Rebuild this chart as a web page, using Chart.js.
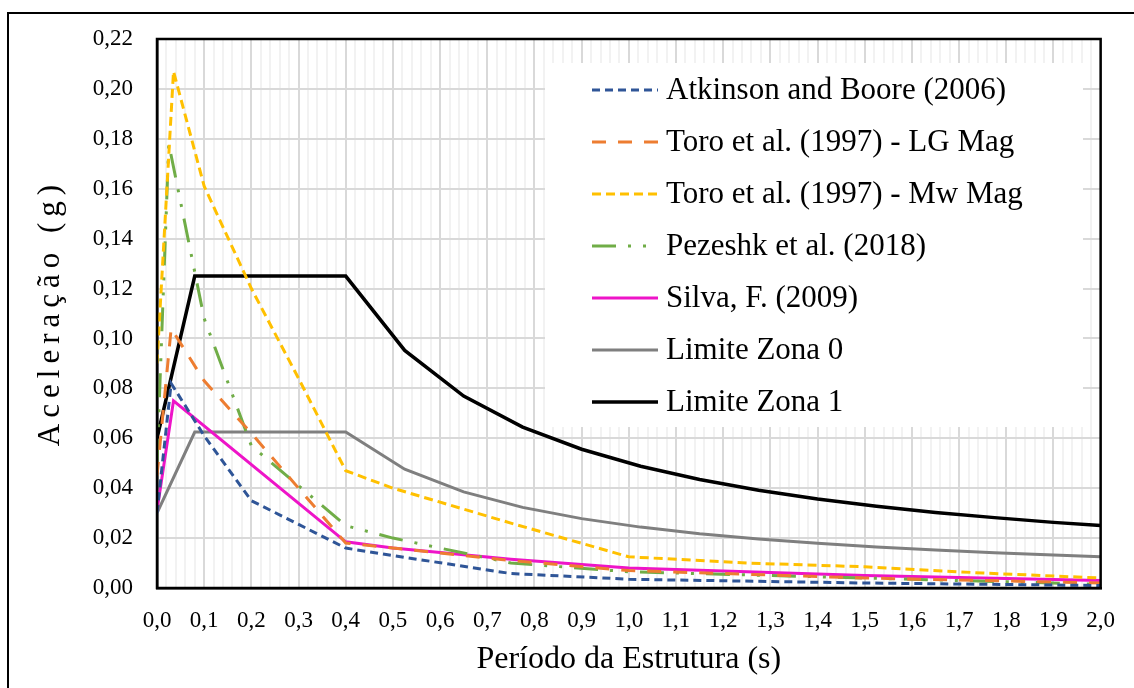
<!DOCTYPE html>
<html>
<head>
<meta charset="utf-8">
<script src="https://cdn.jsdelivr.net/npm/chart.js@4.4.1/dist/chart.umd.min.js"></script>
<style>
  body { margin: 0; background: #fff; }
</style>
</head>
<body>
<canvas id="chart" width="1134" height="688"></canvas>
<script>
// periods (s) and accelerations (g)
let labels = ['Atkinson and Boore (2006)', 'Toro et al. (1997) - LG Mag', 'Toro et al. (1997) - Mw Mag',
              'Pezeshk et al. (2018)', 'Silva, F. (2009)', 'Limite Zona 0', 'Limite Zona 1'];

let tAtk = [0, 0.03, 0.1, 0.2, 0.4, 0.5, 0.75, 1.0, 1.5, 2.0];
let aAtk = [0.030, 0.082, 0.061, 0.035, 0.016, 0.013, 0.0058, 0.0035, 0.002, 0.001];

let tToroLG = [0, 0.03, 0.1, 0.2, 0.3, 0.4, 0.5, 0.75, 1.0, 1.5, 2.0];
let aToroLG = [0.045, 0.104, 0.083, 0.062, 0.040, 0.018, 0.016, 0.011, 0.007, 0.004, 0.002];

let tToroMw = [0, 0.035, 0.1, 0.2, 0.3, 0.4, 0.5, 0.75, 1.0, 1.25, 1.5, 1.75, 2.0];
let aToroMw = [0.09, 0.207, 0.161, 0.120, 0.084, 0.047, 0.040, 0.026, 0.0125, 0.010, 0.0085, 0.006, 0.004];

let tPez = [0, 0.025, 0.1, 0.2, 0.4, 0.5, 0.6, 0.75, 1.0, 1.5, 2.0];
let aPez = [0.05, 0.178, 0.108, 0.057, 0.025, 0.020, 0.016, 0.010, 0.0065, 0.004, 0.0015];

let tSilva = [0, 0.035, 0.4, 0.5, 0.75, 1.0, 1.5, 2.0];
let aSilva = [0.031, 0.075, 0.0185, 0.016, 0.0115, 0.008, 0.005, 0.003];

let tLim = [0, 0.08, 0.4, 0.525, 0.65, 0.775, 0.9, 1.025, 1.15, 1.275, 1.4, 1.525, 1.65, 1.775, 1.9, 2.0];
let aZona0 = [0.030, 0.0625, 0.0625, 0.0476, 0.0385, 0.0323, 0.0278, 0.0244, 0.0217, 0.0196, 0.0179, 0.0164, 0.0152, 0.0141, 0.0132, 0.0125];
let aZona1 = [0.060, 0.125, 0.125, 0.0952, 0.0769, 0.0645, 0.0556, 0.0488, 0.0435, 0.0392, 0.0357, 0.0328, 0.0303, 0.0282, 0.0263, 0.0250];

let yTicks = [0, 0.02, 0.04, 0.06, 0.08, 0.10, 0.12, 0.14, 0.16, 0.18, 0.20, 0.22];
let yTitle = 'Aceleração (g)';

function pts(t, a) {
  return t.map((v, i) => ({ x: v, y: a[i] }));
}

const serif = 'Liberation Serif';

// white legend box inside the plot, Excel style
const legendBox = {
  id: 'legendBox',
  afterDatasetsDraw(chart) {
    const c = chart.ctx;
    const area = chart.chartArea;
    c.save();
    c.fillStyle = '#fff';
    c.fillRect(545, area.top + 24, 538, 364);
    chart.data.datasets.forEach((ds, i) => {
      const y = area.top + 51 + i * 52;
      c.strokeStyle = ds.borderColor;
      c.lineWidth = ds.borderWidth;
      c.setLineDash(ds.borderDash || []);
      c.beginPath();
      c.moveTo(592, y);
      c.lineTo(658, y);
      c.stroke();
      c.setLineDash([]);
      c.fillStyle = '#000';
      c.font = '31px "' + serif + '"';
      c.textBaseline = 'middle';
      c.fillText(ds.label, 666, y + 1);
    });
    c.restore();
  }
};

// plot frame, outer figure border and the spaced-out y title
const frame = {
  id: 'frame',
  afterDraw(chart) {
    const c = chart.ctx;
    const a = chart.chartArea;
    c.save();
    c.strokeStyle = '#000';
    c.lineWidth = 2.5;
    c.strokeRect(a.left, a.top, a.right - a.left, a.bottom - a.top);
    c.lineWidth = 2;
    c.strokeRect(8, 13, 1300, 900);
    c.translate(51, (a.top + a.bottom) / 2 + 2);
    c.rotate(-Math.PI / 2);
    c.font = '31px "' + serif + '"';
    c.letterSpacing = '6px';
    c.fillStyle = '#000';
    c.textAlign = 'center';
    c.textBaseline = 'middle';
    c.fillText(yTitle, 3, 0);
    c.restore();
  }
};

function isMajor(v) {
  return Math.abs(v * 10 - Math.round(v * 10)) < 1e-6;
}

let ctx = document.getElementById('chart').getContext('2d');

var myChart = new Chart(ctx, {
  type: 'line',
  data: {
    datasets: [
      { label: labels[0], data: pts(tAtk, aAtk), borderColor: '#2F5597', borderWidth: 3, borderDash: [8, 5] },
      { label: labels[1], data: pts(tToroLG, aToroLG), borderColor: '#ED7D31', borderWidth: 3, borderDash: [14, 12] },
      { label: labels[2], data: pts(tToroMw, aToroMw), borderColor: '#FFC000', borderWidth: 3, borderDash: [9, 5] },
      { label: labels[3], data: pts(tPez, aPez), borderColor: '#70AD47', borderWidth: 3, borderDash: [24, 12, 3, 12, 3, 12] },
      { label: labels[4], data: pts(tSilva, aSilva), borderColor: '#EE14C8', borderWidth: 3 },
      { label: labels[5], data: pts(tLim, aZona0), borderColor: '#7F7F7F', borderWidth: 3 },
      { label: labels[6], data: pts(tLim, aZona1), borderColor: '#000000', borderWidth: 3.5 }
    ]
  },
  options: {
    responsive: false,
    animation: false,
    layout: { padding: { left: 0, top: 39, right: 21, bottom: 0 } },
    elements: { point: { radius: 0 }, line: { tension: 0, fill: false } },
    plugins: { legend: { display: false }, tooltip: { enabled: false } },
    scales: {
      x: {
        type: 'linear',
        min: 0,
        max: 2,
        ticks: {
          stepSize: 0.02,
          autoSkip: false,
          maxRotation: 0,
          padding: 19,
          color: '#000',
          font: { family: serif, size: 23 },
          callback: v => isMajor(v) ? v.toFixed(1).replace('.', ',') : ''
        },
        grid: {
          drawTicks: false,
          lineWidth: 2,
          color: c => isMajor(c.tick.value) ? '#d9d9d9' : '#f2f2f2'
        },
        border: { color: '#000', width: 2.5 },
        title: {
          display: true,
          text: 'Período da Estrutura (s)',
          color: '#000',
          font: { family: serif, size: 32 },
          padding: { top: 0, bottom: 9 }
        },
        afterFit: s => { s.height = 100; }
      },
      y: {
        min: 0,
        max: 0.22,
        afterBuildTicks: s => { s.ticks = yTicks.map(v => ({ value: v })); },
        ticks: {
          padding: 24,
          color: '#000',
          font: { family: serif, size: 23 },
          callback: v => v.toFixed(2).replace('.', ',')
        },
        grid: { drawTicks: false, lineWidth: 2, color: '#d9d9d9' },
        border: { color: '#000', width: 2.5 },
        title: { display: false },
        afterFit: s => { s.width = 157; }
      }
    }
  },
  plugins: [legendBox, frame]
});
</script>
</body>
</html>
